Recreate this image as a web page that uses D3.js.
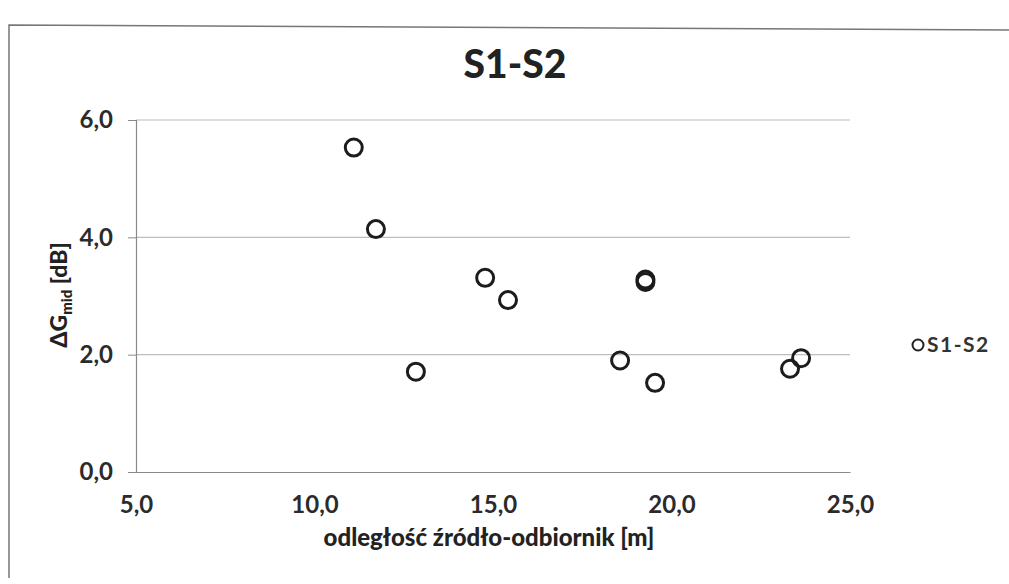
<!DOCTYPE html>
<html><head><meta charset="utf-8">
<script src="https://cdn.jsdelivr.net/npm/d3@7"></script>
<style>
html,body{margin:0;padding:0;background:#fff;}
svg{display:block;}
</style></head>
<body>
<svg id="c" width="1009" height="584"></svg>
<script>
const seriesName = "S1-S2";
const distance = [11.1, 11.72, 12.84, 14.78, 15.42, 19.27, 19.27, 18.56, 19.54, 23.32, 23.63];
const deltaG   = [5.53, 4.14, 1.71, 3.31, 2.93, 3.28, 3.24, 1.90, 1.52, 1.76, 1.94];
const xTicks = [5, 10, 15, 20, 25];
const yTicks = [0, 2, 4, 6];
const fmt = v => v.toFixed(1).replace(".", ",");

const svg = d3.select("#c");
const font = "Lato, 'Open Sans', sans-serif";

// chart frame
svg.append("path").attr("d","M9,578 L9,25 L1009,30")
  .attr("fill","none").attr("stroke","#777").attr("stroke-width",1.5);

const x = d3.scaleLinear().domain([5,25]).range([136,850]);
const y = d3.scaleLinear().domain([0,6]).range([472,120]);

// gridlines
svg.append("g").selectAll("line").data(yTicks.filter(t=>t>0)).join("line")
  .attr("x1",x(5)).attr("x2",x(25)).attr("y1",d=>y(d)).attr("y2",d=>y(d))
  .attr("stroke","#bdbdbd").attr("stroke-width",1.2);

// y axis
const yAxis = d3.axisLeft(y).tickValues(yTicks).tickFormat(fmt).tickSize(8).tickPadding(15);
const gy = svg.append("g").attr("transform",`translate(${x(5)},0)`).call(yAxis);
gy.select(".domain").attr("stroke","#8a8a8a").attr("stroke-width",1.2);
gy.selectAll(".tick line").attr("stroke","#8a8a8a");
gy.selectAll("text").attr("font-family",font).attr("font-weight",700).attr("font-size",24).attr("fill","#2b2b2b");

// x axis
const xAxis = d3.axisBottom(x).tickValues(xTicks).tickFormat(fmt).tickSize(0).tickPadding(24);
const gx = svg.append("g").attr("transform",`translate(0,${y(0)})`).call(xAxis);
gx.select(".domain").attr("stroke","#8a8a8a").attr("stroke-width",1.2);
gx.selectAll("text").attr("font-family",font).attr("font-weight",700).attr("font-size",24).attr("fill","#2b2b2b");

// title
svg.append("text").attr("x",515).attr("y",78).attr("text-anchor","middle")
  .attr("font-family",font).attr("font-weight",900).attr("font-size",39).attr("fill","#222")
  .text("S1-S2");

// axis titles
svg.append("text").attr("x",489).attr("y",546).attr("text-anchor","middle")
  .attr("font-family",font).attr("font-weight",900).attr("font-size",24).attr("fill","#222")
  .text("odległość źródło-odbiornik [m]");

const yt = svg.append("text").attr("transform","translate(67,295) rotate(-90)")
  .attr("text-anchor","middle").attr("font-family",font).attr("font-weight",900)
  .attr("font-size",23).attr("fill","#222");
yt.append("tspan").text("ΔG");
yt.append("tspan").attr("font-size",15).attr("dy",5).text("mid");
yt.append("tspan").attr("dy",-5).text(" [dB]");

// points
svg.append("g").selectAll("circle").data(distance.map((d,i)=>[d,deltaG[i]])).join("circle")
  .attr("cx",d=>x(d[0])).attr("cy",d=>y(d[1])).attr("r",8.5)
  .attr("fill","none").attr("stroke","#1c1c1c").attr("stroke-width",3);

// legend
svg.append("circle").attr("cx",918).attr("cy",345).attr("r",5.5)
  .attr("fill","none").attr("stroke","#222").attr("stroke-width",2);
svg.append("text").attr("x",927).attr("y",352).attr("font-family",font).attr("font-weight",700)
  .attr("font-size",21).attr("letter-spacing",1.5).attr("fill","#333").text(seriesName);
</script>
</body></html>
